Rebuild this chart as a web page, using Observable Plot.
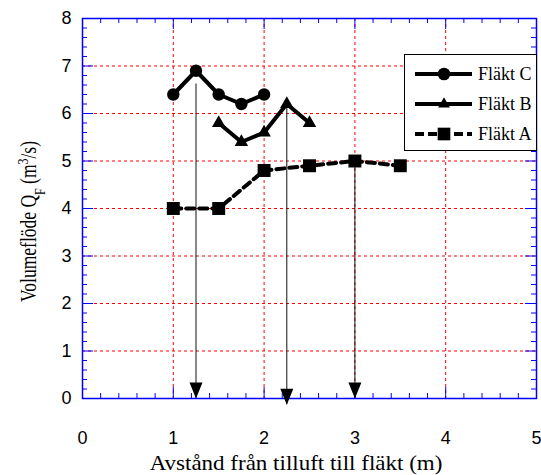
<!DOCTYPE html>
<html>
<head>
<meta charset="utf-8">
<script src="https://cdn.jsdelivr.net/npm/d3@7"></script>
<script src="https://cdn.jsdelivr.net/npm/@observablehq/plot@0.6"></script>
<style>
  html, body { margin: 0; padding: 0; background: #fff; }
  #chart svg { display: block; }
</style>
</head>
<body>
<div id="chart"></div>
<script>
// ---- Data ----
const xC = [1, 1.25, 1.5, 1.75, 2];
const yC = [6.4, 6.9, 6.4, 6.2, 6.4];
const xB = [1.5, 1.75, 2, 2.25, 2.5];
const yB = [5.8, 5.4, 5.6, 6.2, 5.8];
const xA = [1, 1.5, 2, 2.5, 3, 3.5];
const yA = [4.0, 4.0, 4.8, 4.9, 5.0, 4.9];
const arrowX = [1.25, 2.25, 3];
const arrowTop = [6.62, 6.2, 5.0];
const arrowTip = [0, -0.13, 0];
const xTicks = [0, 1, 2, 3, 4, 5];
const yTicks = [0, 1, 2, 3, 4, 5, 6, 7, 8];
const xGrid = [1, 2, 3, 4];
const yGrid = [1, 2, 3, 4, 5, 6, 7];
const seriesNames = ["Fläkt C", "Fläkt B", "Fläkt A"];
const xLabel = "Avstånd från tilluft till fläkt (m)";

const W = 541, H = 475;
const mL = 82, mR = 5, mT = 18, mB = 77;
const pw = W - mL - mR, ph = H - mT - mB;

const toRows = (xs, ys) => xs.map((x, i) => ({x, y: ys[i]}));
const C = toRows(xC, yC), B = toRows(xB, yB), A = toRows(xA, yA);
const arrows = arrowX.map((x, i) => ({x, y1: arrowTop[i], y2: arrowTip[i]}));
const minorX = d3.range(0, 26).map(i => i / 5).filter(v => v % 1 !== 0);
const minorY = d3.range(0, 41).map(i => i / 5).filter(v => Math.abs(v - Math.round(v)) > 1e-9);

const arrowHead = {
  draw(ctx) { ctx.moveTo(0, 0); ctx.lineTo(-6.5, -16); ctx.lineTo(6.5, -16); ctx.closePath(); }
};

const blue = "#0000ff";
const red = "#ff0000";

const plot = Plot.plot({
  width: W, height: H,
  marginLeft: mL, marginRight: mR, marginTop: mT, marginBottom: mB,
  style: {fontFamily: "'Liberation Sans', Arial, sans-serif", fontSize: "18px", color: "#000", background: "#fff"},
  x: {domain: [0, 5]},
  y: {domain: [0, 8]},
  marks: [
    Plot.ruleX(xGrid, {stroke: red, strokeWidth: 1, strokeDasharray: "3,3"}),
    Plot.ruleY(yGrid, {stroke: red, strokeWidth: 1, strokeDasharray: "3,3"}),
    // minor ticks inside
    Plot.ruleX(minorX, {stroke: blue, strokeWidth: 1, insetTop: ph - 5}),
    Plot.ruleX(minorX, {stroke: blue, strokeWidth: 1, insetBottom: ph - 5}),
    Plot.ruleY(minorY, {stroke: blue, strokeWidth: 1, insetRight: pw - 5}),
    Plot.ruleY(minorY, {stroke: blue, strokeWidth: 1, insetLeft: pw - 5}),
    // major ticks inside
    Plot.ruleX(xTicks, {stroke: blue, strokeWidth: 1, insetTop: ph - 11}),
    Plot.ruleX(xTicks, {stroke: blue, strokeWidth: 1, insetBottom: ph - 11}),
    Plot.ruleY(yTicks, {stroke: blue, strokeWidth: 1, insetRight: pw - 11}),
    Plot.ruleY(yTicks, {stroke: blue, strokeWidth: 1, insetLeft: pw - 11}),
    Plot.frame({stroke: blue, strokeWidth: 1.5}),
    Plot.axisX(xTicks, {tickSize: 0, tickPadding: 33, fontSize: 18, fill: "#000", label: null}),
    Plot.axisY(yTicks, {tickSize: 0, tickPadding: 11, fontSize: 18, fill: "#000", label: null}),
    // arrows
    Plot.ruleX(arrows, {x: "x", y1: "y1", y2: "y2", stroke: "#111", strokeWidth: 1, clip: false}),
    Plot.dot(arrows, {x: "x", y: "y2", symbol: arrowHead, fill: "#000", stroke: null, r: 6}),
    // series
    Plot.line(A, {x: "x", y: "y", stroke: "#000", strokeWidth: 4, strokeDasharray: "8,5"}),
    Plot.dot(A, {x: "x", y: "y", symbol: "square", r: 7.3, fill: "#000", stroke: null}),
    Plot.line(B, {x: "x", y: "y", stroke: "#000", strokeWidth: 4}),
    Plot.dot(B, {x: "x", y: "y", symbol: "triangle", r: 5, fill: "#000", stroke: null}),
    Plot.line(C, {x: "x", y: "y", stroke: "#000", strokeWidth: 4}),
    Plot.dot(C, {x: "x", y: "y", symbol: "circle", r: 6.2, fill: "#000", stroke: null})
  ]
});

document.getElementById("chart").appendChild(plot);

const svg = d3.select(plot);
const serif = "'Liberation Serif', 'Times New Roman', serif";

// x label (glyphs slightly widened, like the reference)
svg.append("text")
  .attr("transform", "translate(296,470) scale(1.15,1)")
  .attr("text-anchor", "middle")
  .style("font-family", serif).style("font-size", "20px").attr("fill", "#000")
  .text(xLabel);

// y label with subscript and superscript
const yl = svg.append("text")
  .attr("transform", "translate(36,302) rotate(-90) scale(1,1.3)")
  .attr("text-anchor", "start")
  .style("font-family", serif).style("font-size", "17.5px").attr("fill", "#000");
yl.append("tspan").text("Volumeflöde Q");
yl.append("tspan").attr("baseline-shift", "sub").style("font-size", "12px").text("F");
yl.append("tspan").text(" (m");
yl.append("tspan").attr("baseline-shift", "super").style("font-size", "12px").text("3");
yl.append("tspan").text("/s)");

// legend
const lg = svg.append("g");
lg.append("rect").attr("x", 404.5).attr("y", 54.5).attr("width", 132).attr("height", 96)
  .attr("fill", "#fff").attr("stroke", "#000").attr("stroke-width", 1);
const rowsY = [74, 104, 134];
const sym = [d3.symbolCircle, d3.symbolTriangle, d3.symbolSquare];
const symSize = [125, 60, 160];
seriesNames.forEach((name, i) => {
  const y = rowsY[i];
  lg.append("line").attr("x1", 415).attr("x2", 472).attr("y1", y).attr("y2", y)
    .attr("stroke", "#000").attr("stroke-width", 4)
    .attr("stroke-dasharray", i === 2 ? "9,4" : null);
  lg.append("path").attr("d", d3.symbol(sym[i], symSize[i])())
    .attr("transform", `translate(444,${y})`).attr("fill", "#000");
  lg.append("text").attr("x", 478).attr("y", y).attr("dy", "0.35em")
    .attr("text-anchor", "start")
    .style("font-family", serif).style("font-size", "18px").attr("fill", "#000")
    .text(name);
});
</script>
</body>
</html>
